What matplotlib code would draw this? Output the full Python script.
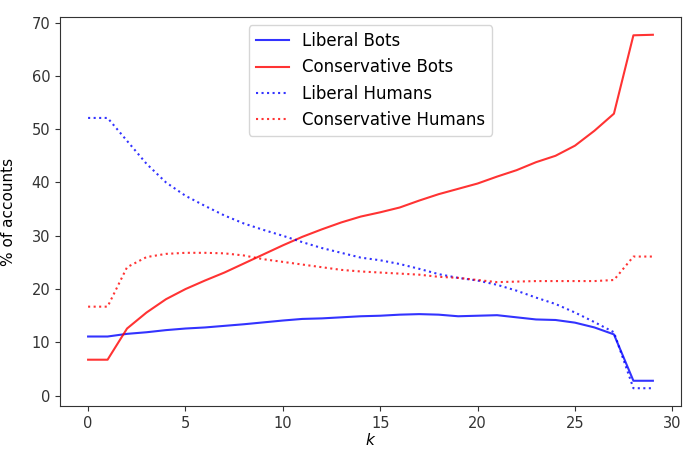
import matplotlib
matplotlib.use("Agg")
import matplotlib.pyplot as plt

k = list(range(30))

liberal_bots = [11.1, 11.1, 11.6, 11.9, 12.3, 12.6, 12.8, 13.1, 13.4, 13.75,
                14.1, 14.4, 14.5, 14.7, 14.9, 15.0, 15.2, 15.3, 15.2, 14.9,
                15.0, 15.1, 14.7, 14.3, 14.2, 13.7, 12.8, 11.5, 2.8, 2.8]
conservative_bots = [6.75, 6.75, 12.6, 15.6, 18.1, 20.0, 21.6, 23.1, 24.8, 26.5,
                     28.2, 29.8, 31.2, 32.5, 33.6, 34.4, 35.3, 36.6, 37.8, 38.8,
                     39.8, 41.1, 42.3, 43.8, 45.0, 46.9, 49.7, 52.9, 67.6, 67.7]
liberal_humans = [52.1, 52.1, 47.8, 43.5, 40.0, 37.5, 35.6, 33.8, 32.3, 31.1,
                  30.0, 28.8, 27.7, 26.8, 25.9, 25.4, 24.7, 23.8, 22.8, 22.1,
                  21.6, 20.8, 19.7, 18.4, 17.2, 15.6, 13.8, 11.9, 1.4, 1.4]
conservative_humans = [16.7, 16.7, 24.1, 26.0, 26.6, 26.8, 26.8, 26.7, 26.3, 25.6,
                       25.1, 24.6, 24.1, 23.6, 23.3, 23.1, 22.9, 22.7, 22.3, 22.1,
                       21.7, 21.3, 21.4, 21.5, 21.5, 21.5, 21.5, 21.7, 26.1, 26.1]

fig = plt.figure(figsize=(6.88, 4.5), dpi=100)
ax = fig.add_axes([0.087, 0.098, 0.903, 0.864])

ax.plot(k, liberal_bots, color="blue", linestyle="-", label="Liberal Bots", alpha=0.8)
ax.plot(k, conservative_bots, color="red", linestyle="-", label="Conservative Bots", alpha=0.8)
ax.plot(k, liberal_humans, color="blue", linestyle=":", label="Liberal Humans", alpha=0.8)
ax.plot(k, conservative_humans, color="red", linestyle=":", label="Conservative Humans", alpha=0.8)

ax.set_xlabel("$k$", fontsize=11)
ax.xaxis.set_label_coords(0.5, -0.068)
ax.set_ylabel("% of accounts", fontsize=11)
ax.yaxis.set_label_coords(-0.07, 0.5)
ax.set_yticks([0, 10, 20, 30, 40, 50, 60, 70])
ax.set_xticks([0, 5, 10, 15, 20, 25, 30])
ax.tick_params(labelsize=10.5, colors="#333333")
for s in ax.spines.values():
    s.set_color("#333333")
ax.legend(loc="upper center", fontsize=12)

fig.savefig("out.png", dpi=100)
